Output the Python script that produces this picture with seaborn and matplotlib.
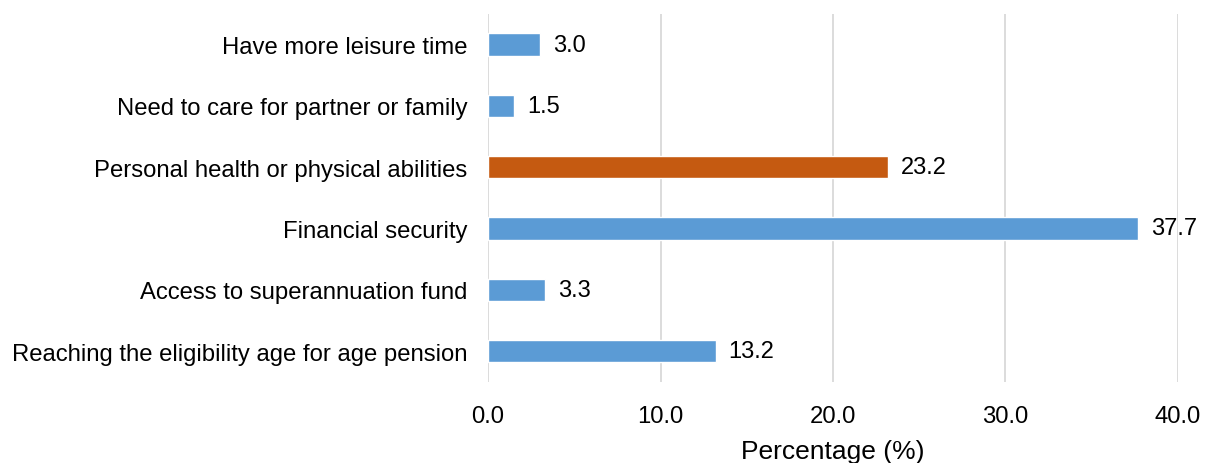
import seaborn as sns
import matplotlib.pyplot as plt
import pandas as pd

reasons = [
    "Have more leisure time",
    "Need to care for partner or family",
    "Personal health or physical abilities",
    "Financial security",
    "Access to superannuation fund",
    "Reaching the eligibility age for age pension",
]
percent = [3.0, 1.5, 23.2, 37.7, 3.3, 13.2]
highlight = [False, False, True, False, False, False]

df = pd.DataFrame({"reason": reasons, "percent": percent, "highlight": highlight})

sns.set_style("white")
plt.rcParams["font.family"] = ["Liberation Sans", "DejaVu Sans"]

fig = plt.figure(figsize=(12.11, 4.64), dpi=100)
ax = fig.add_axes([0.403, 0.175, 0.5697, 0.793])

sns.barplot(
    data=df, x="percent", y="reason", hue="highlight",
    palette={False: "#5B9BD5", True: "#C55A11"}, saturation=1,
    dodge=False, width=0.36, legend=False, ax=ax,
)

for i, v in enumerate(percent):
    ax.text(v + 0.75, i, f"{v:.1f}", va="center", ha="left",
            fontsize=17, color="#000000", clip_on=False)

ax.set_xlim(0, 40)
ax.set_ylim(5.5, -0.5)
ax.set_xticks([0, 10, 20, 30, 40])
ax.set_xticklabels([f"{t:.1f}" for t in [0, 10, 20, 30, 40]])
ax.xaxis.grid(True, color="#D9D9D9", linewidth=1.3)
ax.set_axisbelow(True)
for s in ax.spines.values():
    s.set_visible(False)
ax.tick_params(axis="both", length=0, labelsize=17.2, colors="#000000")
ax.tick_params(axis="x", pad=17)
ax.tick_params(axis="y", pad=15)
ax.set_ylabel("")
ax.set_xlabel("Percentage (%)", fontsize=19, labelpad=8, color="#000000")

fig.savefig("out.png", dpi=100)
